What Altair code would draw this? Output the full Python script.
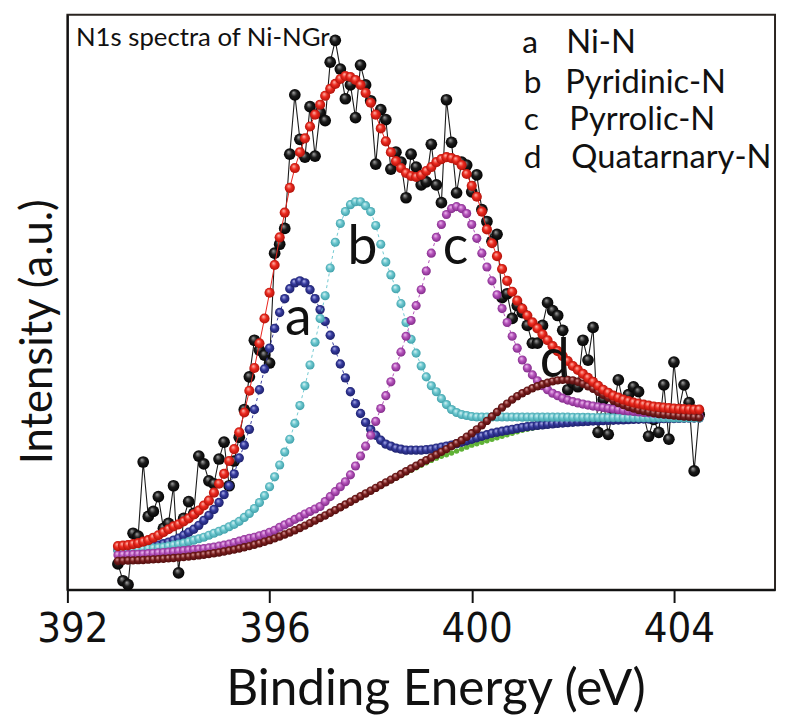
import altair as alt
import pandas as pd

# ---------------- data ----------------
energy = [
    393.0, 393.1, 393.2, 393.3, 393.4, 393.5, 393.6, 393.7, 393.8, 393.9,
    394.0, 394.1, 394.2, 394.3, 394.4, 394.5, 394.6, 394.7, 394.8, 394.9,
    395.0, 395.1, 395.2, 395.3, 395.4, 395.5, 395.6, 395.7, 395.8, 395.9,
    396.0, 396.1, 396.2, 396.3, 396.4, 396.5, 396.6, 396.7, 396.8, 396.9,
    397.0, 397.1, 397.2, 397.3, 397.4, 397.5, 397.6, 397.7, 397.8, 397.9,
    398.0, 398.1, 398.2, 398.3, 398.4, 398.5, 398.6, 398.7, 398.8, 398.9,
    399.0, 399.1, 399.2, 399.3, 399.4, 399.5, 399.6, 399.7, 399.8, 399.9,
    400.0, 400.1, 400.2, 400.3, 400.4, 400.5, 400.6, 400.7, 400.8, 400.9,
    401.0, 401.1, 401.2, 401.3, 401.4, 401.5, 401.6, 401.7, 401.8, 401.9,
    402.0, 402.1, 402.2, 402.3, 402.4, 402.5, 402.6, 402.7, 402.8, 402.9,
    403.0, 403.1, 403.2, 403.3, 403.4, 403.5, 403.6, 403.7, 403.8, 403.9,
    404.0, 404.1, 404.2, 404.3, 404.4, 404.5]

raw = [
    26, 9, 5, 57, 54, 129, 74, 79, 94, 62,
    67, 105, 17, 72, 89, 77, 135, 127, 110, 107,
    132, 149, 105, 130, 154, 182, 215, 252, 242, 237,
    229, 340, 349, 365, 440, 500, 455, 437, 488, 438,
    482, 474, 533, 555, 526, 496, 510, 477, 530, 510,
    494, 430, 485, 475, 425, 442, 432, 396, 440, 427,
    409, 412, 450, 409, 391, 495, 452, 401, 432, 429,
    402, 419, 384, 372, 352, 359, 295, 299, 274, 287,
    280, 267, 249, 249, 267, 290, 282, 277, 262, 202,
    209, 205, 252, 232, 265, 159, 192, 157, 182, 212,
    187, 197, 205, 200, 177, 155, 172, 159, 207, 152,
    230, 182, 207, 189, 120, 177]

envelope = [
    44, 44.5, 45, 46, 47, 48.5, 50, 52.5, 55, 58,
    61, 64, 66, 69, 72, 76, 80, 85, 90, 98,
    107, 117, 130, 142, 159, 179, 201, 224, 249, 274,
    300, 328, 356, 381, 406, 426, 442, 456, 468, 480,
    490, 499, 506, 511, 516, 519, 518, 515, 510, 502,
    492, 480, 466, 453, 442, 433, 426, 421, 418, 417,
    419, 423, 427, 432, 435, 437, 436, 434, 429, 420,
    408, 397, 382, 364, 350, 337, 324, 312, 301, 292,
    284, 277, 270, 264, 258, 252, 246, 241, 236, 231,
    226, 222, 218, 214, 210, 206, 202, 199, 196, 194,
    192, 190.5, 189, 188, 187, 186, 185, 184.5, 184, 183.5,
    183, 182.7, 182.4, 182.2, 182, 182]

comp_a = [
    40, 40, 40.5, 41, 41.5, 42, 43, 44, 45, 46.5,
    48, 50, 52, 55, 58, 61, 65, 70, 75, 81,
    88, 96, 105, 117, 133, 146, 162, 182, 202, 223,
    244, 264, 280, 294, 304, 310, 312, 310, 303, 294,
    283, 271, 257, 242, 228, 214, 200, 188, 178, 169,
    162, 156, 151, 147, 145, 143, 142, 141, 141, 141,
    141, 141.5, 142, 143, 144, 145, 146, 147.5, 149, 150.5,
    152, 153.5, 155, 156.5, 158, 159, 160, 161, 162, 163,
    164, 164.7, 165.4, 166, 166.5, 167, 167.5, 168, 168.4, 168.8,
    169.2, 169.5, 169.8, 170.1, 170.4, 170.6, 170.8, 171, 171.2, 171.4,
    171.6, 171.8, 172, 172.2, 172.4, 172.5, 172.6, 172.7, 172.8, 172.9,
    173, 173.1, 173.2, 173.3, 173.4, 173.5]

comp_b = [
    39, 39, 39.5, 40, 40.5, 41, 41.5, 42, 42.5, 43,
    44, 45, 46, 47, 48.5, 50, 51.5, 53, 55, 57,
    59, 61, 63.5, 66, 69, 73, 77, 82, 88, 95,
    104, 114, 126, 139, 152, 168, 186, 206, 227, 250,
    274, 297, 325, 351, 370, 382, 389, 392, 392, 388,
    382, 368, 349, 331, 318, 304, 289, 270, 253, 239,
    226, 215, 206, 200, 193, 187, 182, 179, 177, 176,
    175, 174.5, 174.5, 174.5, 174.5, 174.5, 174.5, 174.4, 174.4, 174.4,
    174.3, 174.3, 174.3, 174.3, 174.3, 174.3, 174.3, 174.3, 174.3, 174.3,
    174.2, 174.2, 174.1, 174.1, 174, 174, 174, 173.9, 173.9, 173.9,
    173.8, 173.8, 173.8, 173.7, 173.7, 173.7, 173.6, 173.6, 173.6, 173.6,
    173.5, 173.5, 173.5, 173.5, 173.5, 173.5]

comp_c = [
    35, 35.2, 35.4, 35.6, 35.8, 36, 36.4, 36.8, 37.2, 37.6,
    38, 38.5, 39, 39.5, 40, 40.5, 41, 41.5, 42.2, 43,
    44, 45, 46, 47.5, 49, 50.5, 52, 53, 54.5, 56,
    58, 60, 63, 65.5, 68, 71, 73.5, 76.5, 79, 81.5,
    84, 89, 94, 99, 104, 109, 116, 125, 135, 145,
    156, 170, 183, 196, 210, 225, 240, 256, 272, 287,
    303, 322, 340, 356, 369, 379, 385, 387, 385, 380,
    369, 355, 340, 326, 312, 298, 284, 270, 256, 244,
    232, 224, 217, 211, 206, 202, 198.5, 196, 193.5, 191.5,
    190, 188.7, 187.5, 186.5, 185.5, 184.7, 184, 183.2, 182.5, 181.8,
    181, 180.5, 180, 179.5, 179, 178.6, 178.2, 177.8, 177.4, 177,
    176.6, 176.2, 175.8, 175.5, 175.2, 175]

comp_d = [
    29, 29.2, 29.4, 29.6, 29.8, 30, 30.3, 30.6, 30.9, 31.2,
    31.6, 32, 32.4, 32.9, 33.4, 34, 34.6, 35.3, 36, 36.8,
    37.6, 38.5, 39.5, 40.5, 41.6, 42.8, 44, 45.4, 46.8, 48.4,
    50, 51.8, 53.7, 55.7, 57.8, 60, 62.3, 64.7, 67.2, 69.8,
    72.4, 75, 77.7, 80.4, 83.2, 86, 88.8, 91.6, 94.4, 97.2,
    100, 102.8, 105.6, 108.4, 111.2, 114, 116.8, 119.6, 122.4, 125.2,
    128, 130.8, 133.6, 136.4, 139.2, 142, 145, 148, 151, 154.5,
    158, 162, 166, 170.5, 175, 179.5, 184, 188, 192, 195.5,
    198.5, 201, 203.5, 205.5, 207.5, 209, 210.5, 211.5, 212, 212,
    211.5, 210, 208, 205.5, 203, 200, 197, 194, 191, 188.5,
    186.5, 184.5, 183, 181.5, 180.5, 179.5, 178.5, 177.5, 177, 176.5,
    176, 175.5, 175, 174.7, 174.4, 174]

background = [
    28.4, 28.6, 28.8, 29, 29.2, 29.4, 29.7, 30, 30.3, 30.6,
    31, 31.4, 31.8, 32.3, 32.8, 33.4, 34, 34.7, 35.4, 36.2,
    37, 37.9, 38.9, 39.9, 41, 42.2, 43.4, 44.8, 46.2, 47.8,
    49.4, 51.2, 53.1, 55.1, 57.2, 59.4, 61.7, 64.1, 66.6, 69.2,
    71.8, 74.4, 77.1, 79.8, 82.6, 85.4, 88.2, 91, 93.8, 96.6,
    99.5, 102, 104.7, 107.4, 110.1, 112.8, 115.4, 118, 120.6, 123.2,
    125.7, 128.2, 130.6, 132.9, 134.7, 136.2, 138.1, 140, 142, 144,
    146, 147.5, 149, 150.5, 152, 153.5, 155, 156.5, 158, 159.5,
    161, 162, 163, 164, 164.8, 165.5, 166.2, 166.8, 167.4, 168,
    168.5, 169, 169.4, 169.8, 170.1, 170.4, 170.7, 171, 171.2, 171.4,
    171.6, 171.7, 171.8, 171.9, 172, 172.1, 172.2, 172.3, 172.4, 172.5,
    172.6, 172.7, 172.8, 172.9, 173, 173]

# peak labels
peak_text = ["a", "b", "c", "d"]
peak_E = [396.57, 397.84, 399.68, 401.64]
peak_I = [257, 329, 329, 215]

# legend text block
legend_keys = ["a", "b", "c", "d"]
legend_names = ["Ni-N", "Pyridinic-N", "Pyrrolic-N", "Quatarnary-N"]
legend_key_E = [401.0, 401.03, 401.03, 401.03]
legend_name_E = [401.87, 401.85, 401.93, 401.97]
legend_I = [542, 502, 464, 426]

title_text = ["N1s spectra of Ni-NGr"]
title_E = [392.17]
title_I = [549]

# ---------------- tables ----------------
series = {
    "raw": raw, "bg": background, "a": comp_a, "b": comp_b,
    "c": comp_c, "d": comp_d, "env": envelope,
}
for k, v in series.items():
    assert len(v) == len(energy), k
df = pd.concat(
    [pd.DataFrame({"E": energy, "I": v, "s": k}) for k, v in series.items()],
    ignore_index=True,
)
peaks_df = pd.DataFrame({"E": peak_E, "I": peak_I, "t": peak_text})
keys_df = pd.DataFrame({"E": legend_key_E, "I": legend_I, "t": legend_keys})
names_df = pd.DataFrame({"E": legend_name_E, "I": legend_I, "t": legend_names})
title_df = pd.DataFrame({"E": title_E, "I": title_I, "t": title_text})

# ---------------- encodings ----------------
FONT = "Lato"
TICK_FONT = "'Liberation Sans Narrow', 'DejaVu Sans Condensed', Roboto, 'Liberation Sans', sans-serif"
x_enc = alt.X(
    "E:Q",
    scale=alt.Scale(domain=[392, 406], nice=False, zero=False),
    axis=alt.Axis(
        values=[392, 396, 400, 404], format="d", grid=False,
        title="Binding Energy (eV)", titleFont=FONT, titleFontSize=50,
        titleFontWeight="normal", titleColor="#111111",
        titleX=372, titleY=116, titleBaseline="alphabetic",
        labelFont=TICK_FONT, labelFontSize=42,
        labelColor="#111111", labelPadding=6, labelOffset=5,
        labelFlush=False, labelOverlap=False,
        tickSize=13, tickWidth=2, tickColor="#111111",
        domainColor="#111111", domainWidth=2,
    ),
)
y_enc = alt.Y(
    "I:Q",
    scale=alt.Scale(domain=[0, 581], nice=False, zero=False),
    axis=alt.Axis(
        labels=False, ticks=False, grid=False,
        title="Intensity (a.u.)", titleFont=FONT, titleFontSize=44,
        titleFontWeight="normal", titleColor="#111111",
        titleX=-16, titleY=320, titleBaseline="alphabetic",
        domainColor="#111111", domainWidth=2,
    ),
)


def ball(light, base, dark):
    return {
        "gradient": "radial",
        "x1": 0.38, "y1": 0.3, "r1": 0.0,
        "x2": 0.5, "y2": 0.5, "r2": 0.55,
        "stops": [
            {"offset": 0.0, "color": light},
            {"offset": 0.45, "color": base},
            {"offset": 1.0, "color": dark},
        ],
    }


base = alt.Chart(df)


def curve(key, line_color, grad, size, line_width=1.0, dash=None):
    sub = base.transform_filter(alt.datum.s == key)
    line_kwargs = dict(color=line_color, strokeWidth=line_width)
    if dash:
        line_kwargs["strokeDash"] = dash
    ln = sub.mark_line(**line_kwargs).encode(x=x_enc, y=y_enc)
    pts = sub.mark_circle(fill=grad, size=size, opacity=1, strokeWidth=0).encode(
        x=x_enc, y=y_enc
    )
    return [ln, pts]


layers = []
layers += curve("raw", "#1a1a1a", ball("#a8a8a8", "#1c1c1c", "#000000"), 140, 1.1)
layers += curve("bg", "#5fb236", "#5fb236", 30, 1.0)
layers += curve("a", "#3a3f9f", ball("#b9bcf0", "#353a9e", "#1a1d63"), 90, 1.0, [3, 3])
layers += curve("b", "#72c9d1", ball("#e4f7f8", "#6cc8d0", "#3a9aa4"), 85, 1.0, [3, 3])
layers += curve("c", "#b452ba", ball("#f4cdf5", "#b653bc", "#7a2682"), 85, 1.0, [3, 3])
layers += curve("d", "#7a1d1d", ball("#e6b1b1", "#7b1e1e", "#4a0b0b"), 72, 1.0)
layers += curve("env", "#e8231c", ball("#ffc2b8", "#ee2a1f", "#a80f07"), 105, 1.0)

txt_enc = dict(x=x_enc, y=y_enc, text="t:N")
layers.append(
    alt.Chart(peaks_df).mark_text(
        font=FONT, fontSize=54, align="center", baseline="alphabetic", color="#111111"
    ).encode(**txt_enc)
)
layers.append(
    alt.Chart(keys_df).mark_text(
        font=FONT, fontSize=32, align="left", baseline="alphabetic", color="#111111"
    ).encode(**txt_enc)
)
layers.append(
    alt.Chart(names_df).mark_text(
        font=FONT, fontSize=33, align="left", baseline="alphabetic", color="#111111"
    ).encode(**txt_enc)
)
layers.append(
    alt.Chart(title_df).mark_text(
        font=FONT, fontSize=26, align="left", baseline="alphabetic", color="#111111"
    ).encode(**txt_enc)
)

chart = (
    alt.layer(*layers)
    .properties(
        width=715,
        height=581,
        autosize=alt.AutoSizeParams(type="none"),
        padding={"left": 60, "top": 3, "right": 2, "bottom": 129},
        background="white",
    )
    .configure_view(stroke="#2a2420", strokeWidth=2)
)

chart.save("out.html", embed_options={"renderer": "svg", "actions": False})
